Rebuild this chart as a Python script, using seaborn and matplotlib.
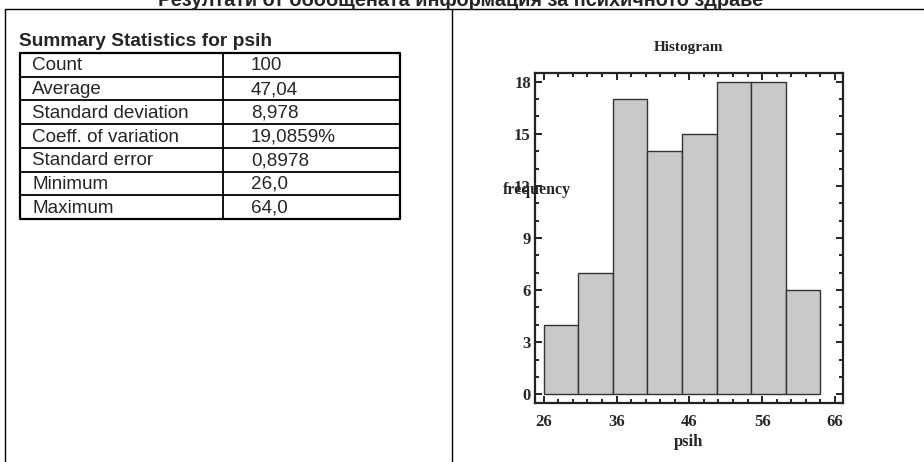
import matplotlib
matplotlib.use("Agg")
import matplotlib.pyplot as plt
import numpy as np
import seaborn as sns
from matplotlib.ticker import MultipleLocator

# data
page_title = "Резултати от обобщената информация за психичното здраве"
table_title = "Summary Statistics for psih"
stat_names = ["Count", "Average", "Standard deviation", "Coeff. of variation",
              "Standard error", "Minimum", "Maximum"]
stat_values = ["100", "47,04", "8,978", "19,0859%", "0,8978", "26,0", "64,0"]

bin_edges = [26, 30.75, 35.5, 40.25, 45, 49.75, 54.5, 59.25, 64]
bin_counts = [4, 7, 17, 14, 15, 18, 18, 6]
bin_centers = [(a + b) / 2 for a, b in zip(bin_edges[:-1], bin_edges[1:])]
x_ticks = [26, 36, 46, 56, 66]
y_ticks = [0, 3, 6, 9, 12, 15, 18]

sns.set_theme(style="ticks")
plt.rcParams["font.family"] = ["Liberation Sans", "DejaVu Sans"]
serif = ["Liberation Serif", "DejaVu Serif"]

W, H = 924, 462
fig = plt.figure(figsize=(W / 100, H / 100), dpi=100)
fig.patch.set_facecolor("white")

# page layer in pixel coordinates
bg = fig.add_axes([0, 0, 1, 1])
bg.set_xlim(0, W)
bg.set_ylim(H, 0)
bg.axis("off")
bg.plot([5, W], [9, 9], color="black", lw=1)
bg.plot([5, 5], [9, H], color="black", lw=1)
bg.plot([452, 452], [9, H], color="black", lw=1)
bg.text(461, 6, page_title, ha="center", va="baseline", fontsize=14.3,
        fontweight="bold", family=["Liberation Sans Narrow", "Liberation Sans", "DejaVu Sans"])

# summary table
tl, tr, tc = 20, 400, 223
tt, tb = 53, 219
bg.text(19, 42, table_title, ha="left", va="center", fontsize=13.8, fontweight="bold")
row_h = (tb - tt) / len(stat_names)
for i, (name, val) in enumerate(zip(stat_names, stat_values)):
    y0 = tt + i * row_h
    yc = y0 + row_h / 2
    bg.text(32, yc + 1, name, ha="left", va="center", fontsize=13.6)
    bg.text(251, yc + 1, val, ha="left", va="center", fontsize=13.6)
    if i > 0:
        bg.plot([tl, tr], [y0, y0], color="black", lw=1.3)
bg.plot([tl, tr, tr, tl, tl], [tt, tt, tb, tb, tt], color="black", lw=1.6)
bg.plot([tc, tc], [tt, tb], color="black", lw=1.3)

# histogram
ax = fig.add_axes([535 / W, 1 - 403 / H, 308 / W, 330 / H])
sns.histplot(x=bin_centers, weights=bin_counts, bins=bin_edges, ax=ax,
             color="#c8c9cb", alpha=1, edgecolor="#333333", linewidth=1)
ax.set_xlim(24.8, 67.1)
ax.set_ylim(-0.5, 18.5)
ax.set_xticks(x_ticks)
ax.set_yticks(y_ticks)
ax.xaxis.set_minor_locator(MultipleLocator(2))
ax.yaxis.set_minor_locator(MultipleLocator(1))
ax.tick_params(which="both", direction="in", top=True, right=True, color="black", width=1.2)
ax.tick_params(which="major", length=5, pad=3, labelsize=12)
ax.tick_params(which="minor", length=3)
ax.tick_params(axis="x", pad=8)
for lab in ax.get_xticklabels() + ax.get_yticklabels():
    lab.set_family(serif)
    lab.set_fontweight("bold")
for sp in ax.spines.values():
    sp.set_linewidth(1.6)
    sp.set_color("#222222")
ax.set_xlabel("psih", family=serif, fontweight="bold", fontsize=12, labelpad=3)
ax.set_ylabel("frequency", family=serif, fontweight="bold", fontsize=11.5, rotation=0)
ax.yaxis.set_label_coords(0.005, 0.62)
ax.set_title("Histogram", family=serif, fontweight="bold", fontsize=11, pad=16)

fig.savefig("out.png", dpi=100)
